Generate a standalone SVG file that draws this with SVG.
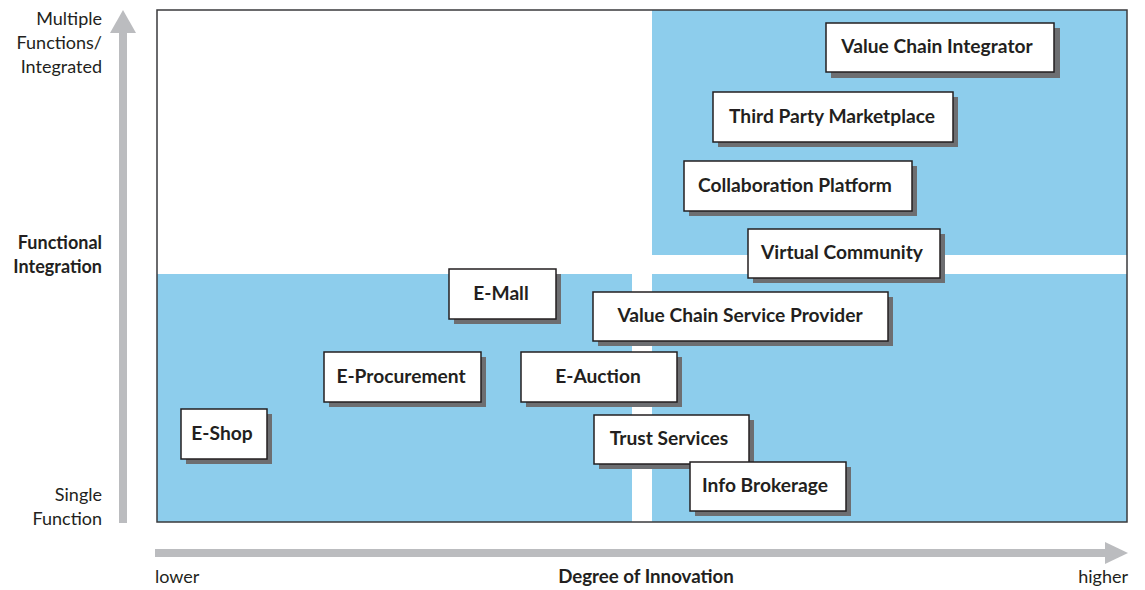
<svg xmlns="http://www.w3.org/2000/svg" width="1145" height="590" viewBox="0 0 1145 590">
<style>
.lbl{font-family:Lato,"Liberation Sans",sans-serif;font-size:18px;fill:#231f20}
.b{font-weight:bold}
.nt{font-family:Lato,"Liberation Sans",sans-serif;font-size:19.2px;font-weight:bold;fill:#231f20;text-anchor:middle}
.box{fill:#fff;stroke:#231f20;stroke-width:1.5}
.sh{fill:#6d6e71}
.bl{fill:#8dcdec}
.ax{fill:#bbbcbf}
</style>
<rect width="1145" height="590" fill="#fff"/>
<g id="quadrants">
<rect class="bl" x="157" y="274" width="475" height="248"/>
<rect class="bl" x="652" y="274" width="475" height="248"/>
<rect class="bl" x="652" y="10" width="475" height="245"/>
<rect x="157" y="10" width="970" height="512" fill="none" stroke="#3a3a3c" stroke-width="1.5"/>
</g>
<g id="axes">
<rect class="ax" x="119" y="32" width="8" height="491"/>
<polygon class="ax" points="110,33 123,10 136,33"/>
<rect class="ax" x="155" y="549" width="952" height="8"/>
<polygon class="ax" points="1105,542 1128,553 1105,564"/>
</g>
<g id="axis-labels">
<text class="lbl" x="102" y="25" text-anchor="end">Multiple</text>
<text class="lbl" x="102" y="49" text-anchor="end">Functions/</text>
<text class="lbl" x="102" y="73" text-anchor="end">Integrated</text>
<text class="lbl b" x="102" y="249" text-anchor="end">Functional</text>
<text class="lbl b" x="102" y="273" text-anchor="end">Integration</text>
<text class="lbl" x="102" y="501" text-anchor="end">Single</text>
<text class="lbl" x="102" y="525" text-anchor="end">Function</text>
<text class="lbl" x="155" y="583">lower</text>
<text class="lbl b" x="646" y="583" text-anchor="middle" style="font-size:18.7px">Degree of Innovation</text>
<text class="lbl" x="1128" y="583" text-anchor="end">higher</text>
</g>
<g id="n-vci"><rect class="sh" x="831" y="28" width="229" height="50"/><rect class="box" x="826" y="23" width="228" height="49"/><text class="nt" x="937" y="53">Value Chain Integrator</text></g>
<g id="n-tpm"><rect class="sh" x="718" y="97" width="240" height="50"/><rect class="box" x="713" y="92" width="240" height="50"/><text class="nt" x="832" y="123">Third Party Marketplace</text></g>
<g id="n-cp"><rect class="sh" x="689" y="166" width="228" height="50"/><rect class="box" x="684" y="161" width="228" height="50"/><text class="nt" x="795" y="192">Collaboration Platform</text></g>
<g id="n-vc"><rect class="sh" x="753" y="234" width="192" height="49"/><rect class="box" x="748" y="229" width="192" height="49"/><text class="nt" x="842" y="259">Virtual Community</text></g>
<g id="n-emall"><rect class="sh" x="454" y="274" width="107" height="50"/><rect class="box" x="449" y="269" width="107" height="50"/><text class="nt" x="501" y="300">E-Mall</text></g>
<g id="n-vcsp"><rect class="sh" x="598" y="297" width="295" height="49"/><rect class="box" x="593" y="292" width="295" height="49"/><text class="nt" x="740" y="322">Value Chain Service Provider</text></g>
<g id="n-eproc"><rect class="sh" x="329" y="357" width="157" height="50"/><rect class="box" x="324" y="352" width="157" height="50"/><text class="nt" x="401" y="383">E-Procurement</text></g>
<g id="n-eauc"><rect class="sh" x="526" y="357" width="156" height="50"/><rect class="box" x="521" y="352" width="156" height="50"/><text class="nt" x="598" y="383">E-Auction</text></g>
<g id="n-eshop"><rect class="sh" x="186" y="414" width="86" height="50"/><rect class="box" x="181" y="409" width="86" height="50"/><text class="nt" x="222" y="440">E-Shop</text></g>
<g id="n-trust"><rect class="sh" x="599" y="420" width="155" height="49"/><rect class="box" x="594" y="415" width="155" height="49"/><text class="nt" x="669" y="445">Trust Services</text></g>
<g id="n-info"><rect class="sh" x="695" y="467" width="156" height="49"/><rect class="box" x="690" y="462" width="156" height="49"/><text class="nt" x="765" y="492">Info Brokerage</text></g>
<g id="connectors"></g>
</svg>
